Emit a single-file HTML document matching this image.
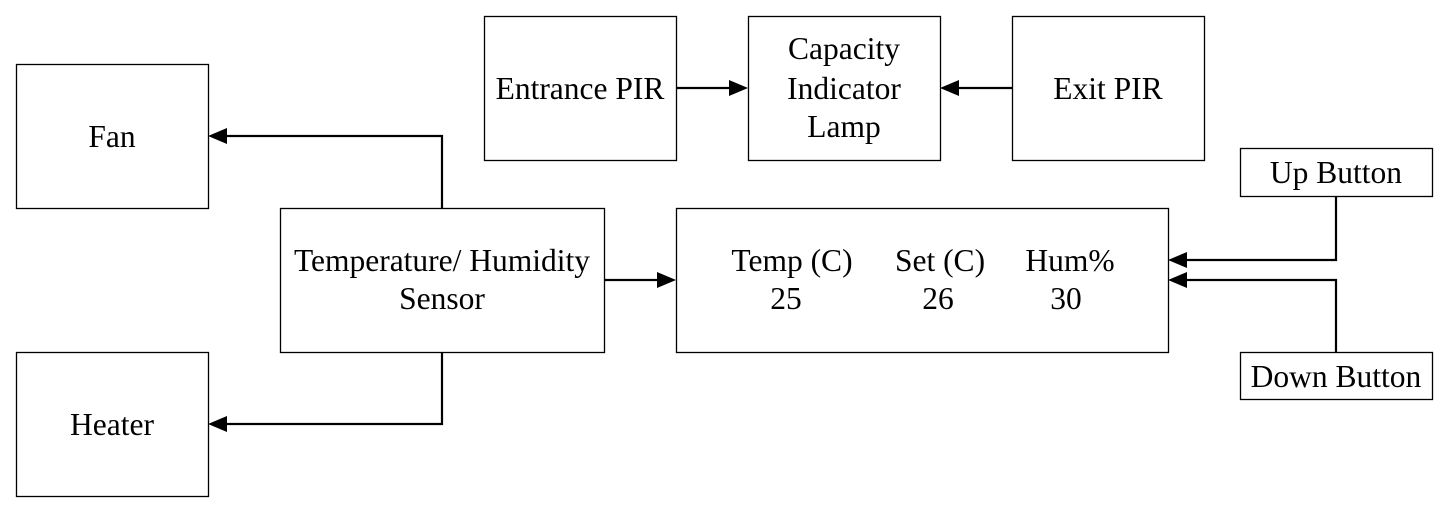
<!DOCTYPE html>
<html><head><style>html,body{margin:0;padding:0;background:#fff}</style></head><body>
<svg width="1452" height="511" xmlns="http://www.w3.org/2000/svg" font-family="Liberation Serif, serif" font-size="31.5" fill="none" stroke="#000" stroke-width="1.3">
<g>
<rect x="16.5" y="64.5" width="192" height="144"/>
<rect x="16.5" y="352.5" width="192" height="144"/>
<rect x="280.5" y="208.5" width="324" height="144"/>
<rect x="676.5" y="208.5" width="492" height="144"/>
<rect x="484.5" y="16.5" width="192" height="144"/>
<rect x="748.5" y="16.5" width="192" height="144"/>
<rect x="1012.5" y="16.5" width="192" height="144"/>
<rect x="1240.5" y="148.5" width="192" height="48"/>
<rect x="1240.5" y="352.5" width="192" height="47"/>
</g>
<g stroke-width="2.2">
<polyline points="442,208 442,136 226,136"/>
<polyline points="442,352 442,424 226,424"/>
<line x1="604" y1="280" x2="658" y2="280"/>
<line x1="676" y1="88" x2="730" y2="88"/>
<line x1="1012" y1="88" x2="958" y2="88"/>
<polyline points="1336,196 1336,260 1186,260"/>
<polyline points="1336,352 1336,280 1186,280"/>
</g>
<g fill="#000" stroke="none">
<polygon points="208,136 227,128 227,144"/>
<polygon points="208,424 227,416 227,432"/>
<polygon points="676,280 657,272 657,288"/>
<polygon points="748,88 729,80 729,96"/>
<polygon points="940,88 959,80 959,96"/>
<polygon points="1168,260 1187,252 1187,268"/>
<polygon points="1168,280 1187,272 1187,288"/>
</g>
<g fill="#000" stroke="none" text-anchor="middle">
<text x="112" y="147">Fan</text>
<text x="112" y="435">Heater</text>
<text x="442" y="271">Temperature/ Humidity</text>
<text x="442" y="309">Sensor</text>
<text x="580" y="99">Entrance PIR</text>
<text x="844" y="59">Capacity</text>
<text x="844" y="99">Indicator</text>
<text x="844" y="137">Lamp</text>
<text x="1108" y="99">Exit PIR</text>
<text x="1336" y="183">Up Button</text>
<text x="1336" y="387">Down Button</text>
<text x="792" y="271">Temp (C)</text>
<text x="786" y="309">25</text>
<text x="940" y="271">Set (C)</text>
<text x="938" y="309">26</text>
<text x="1070" y="271">Hum%</text>
<text x="1066" y="309">30</text>
</g>
</svg>
</body></html>
